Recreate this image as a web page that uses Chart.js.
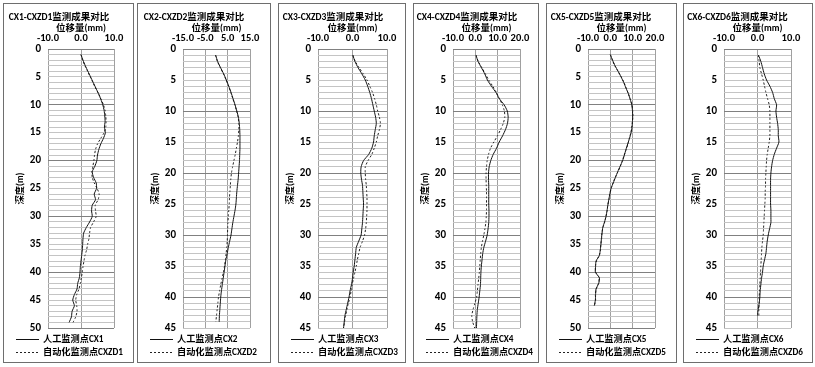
<!DOCTYPE html>
<html>
<head>
<meta charset="utf-8">
<script src="https://cdn.jsdelivr.net/npm/chart.js@4.4.1/dist/chart.umd.min.js"></script>
<style>
  body { margin: 0; background: #fff; width: 815px; height: 367px; position: relative; overflow: hidden; }
  .panel { position: absolute; top: 3px; height: 358px; border: 1px solid #6e6e6e; background: #fff; }
  .panel canvas { display: block; }
</style>
</head>
<body>
<script>
// depth (m) of each reading
const depths = [1, 2, 3, 4, 5, 6, 7, 8, 9, 10, 11, 12, 13, 14, 15, 16, 17, 18, 19, 20,
  21, 22, 23, 24, 25, 26, 27, 28, 29, 30, 31, 32, 33, 34, 35, 36, 37, 38, 39, 40,
  41, 42, 43, 44, 45, 46, 47, 48, 49];

// displacement (mm), manual inclinometer CXn and automatic CXZDn
const cx1 = [0.0, 0.6, 1.3, 2.1, 2.9, 3.7, 4.5, 5.3, 6.0, 6.6, 7.0, 7.2, 7.3, 7.1, 7.4, 6.8, 6.0, 5.4, 5.0, 4.8,
  4.2, 3.4, 3.8, 4.6, 4.7, 4.0, 4.4, 3.4, 3.2, 3.4, 2.6, 1.6, 0.8, 0.6, 0.5, 0.4, 0.2, 0.0, -0.2, -0.3,
  -0.5, -1.0, -1.2, -2.0, -2.5, -2.0, -2.7, -2.9, -3.6];
const cxzd1 = [0.0, 0.5, 1.2, 2.0, 2.8, 3.6, 4.4, 5.3, 6.1, 6.8, 7.3, 7.5, 7.6, 7.5, 7.0, 6.0, 5.0, 4.4, 4.1, 3.9,
  3.6, 3.3, 3.4, 4.0, 4.9, 5.5, 5.2, 4.3, 4.4, 4.6, 3.8, 2.9, 2.6, 2.4, 2.0, 1.7, 1.2, 0.9, 0.6, 0.4,
  0.1, -0.2, -0.6, -1.3, -1.6, -1.3, -1.2, -1.6, -2.4];

const cx2 = [-0.4, 0.5, 1.8, 3.2, 4.4, 5.5, 6.5, 7.4, 8.3, 9.1, 9.8, 10.2, 10.4, 10.5, 10.5, 10.5, 10.4, 10.3, 10.1, 9.9,
  9.7, 9.4, 9.1, 8.9, 8.7, 8.3, 7.8, 7.3, 6.9, 6.5, 5.9, 5.3, 4.8, 4.2, 3.8, 3.4, 3.0, 2.6, 2.2, 1.9,
  1.7, 1.5, 1.3, 1.2];
const cxzd2 = [-0.4, 0.4, 1.7, 3.1, 4.3, 5.4, 6.4, 7.3, 8.2, 9.0, 9.7, 10.0, 10.0, 9.8, 9.4, 8.9, 8.4, 7.8, 7.2, 6.7,
  6.4, 6.2, 6.0, 5.8, 5.7, 5.5, 5.3, 5.1, 5.0, 4.9, 4.8, 4.6, 4.3, 4.0, 3.6, 3.1, 2.5, 1.9, 1.4, 0.9,
  0.6, 0.3, 0.0, -0.3];

const cx3 = [0.1, 0.7, 1.6, 2.7, 3.7, 4.4, 5.0, 5.5, 5.9, 6.3, 6.7, 6.9, 6.6, 6.3, 6.1, 5.6, 4.7, 3.2, 2.5, 2.4,
  2.6, 2.9, 3.0, 3.1, 3.2, 3.1, 3.0, 2.9, 2.7, 2.5, 1.8, 1.1, 0.9, 0.7, 0.5, 0.2, 0.0, -0.3, -0.7, -1.0,
  -1.4, -1.8, -2.2, -2.4, -2.6];
const cxzd3 = [0.1, 0.8, 1.9, 3.1, 4.2, 5.0, 5.8, 6.4, 6.9, 7.3, 7.8, 8.1, 7.8, 7.3, 6.9, 6.3, 5.6, 4.5, 3.7, 3.7,
  3.8, 4.0, 4.1, 4.2, 4.2, 4.2, 4.1, 4.0, 3.8, 3.5, 2.9, 2.2, 1.8, 1.4, 1.1, 0.7, 0.3, -0.1, -0.4, -0.7,
  -1.2, -1.6, -2.0, -2.3, -2.6];

const cx4 = [0.3, 1.2, 2.7, 4.2, 5.4, 7.2, 9.2, 10.7, 12.9, 14.3, 14.7, 14.4, 13.5, 12.2, 10.7, 9.5, 8.0, 6.9, 6.2, 5.9,
  5.9, 6.0, 6.0, 6.0, 6.0, 6.1, 6.1, 6.0, 5.7, 5.3, 4.6, 3.8, 3.3, 3.0, 2.7, 2.5, 2.4, 2.3, 2.0, 1.7,
  1.3, 0.9, 0.7, 0.6, 0.5];
const cxzd4 = [0.3, 1.3, 2.9, 4.5, 6.0, 7.8, 9.4, 10.8, 12.1, 13.0, 13.2, 12.5, 11.3, 9.9, 8.3, 6.8, 5.9, 5.3, 5.0, 4.8,
  4.8, 4.9, 5.0, 5.0, 5.0, 5.0, 4.9, 4.7, 4.3, 3.8, 3.2, 2.7, 2.4, 2.2, 2.0, 1.8, 1.5, 1.2, 0.9, 0.6,
  -0.2, -1.0, -1.6, -1.2, -0.3];

const cx5 = [0.0, 1.0, 2.1, 3.5, 4.8, 6.0, 7.0, 8.1, 8.9, 9.6, 9.9, 10.0, 9.9, 9.7, 9.3, 8.6, 7.8, 7.0, 6.3, 5.5,
  4.4, 3.3, 2.3, 1.3, 0.3, -0.2, -0.7, -1.1, -1.5, -1.9, -2.6, -3.4, -3.7, -4.0, -4.2, -4.5, -4.9, -6.4, -6.6, -6.7,
  -4.9, -5.2, -6.4, -6.6, -6.7, -7.2];
const cxzd5 = [0.0, 0.9, 2.0, 3.4, 4.9, 6.1, 7.1, 8.0, 8.9, 9.7, 10.0, 10.1, 9.9, 9.6, 9.2, 8.5, 7.9, 7.1, 6.2, 5.4,
  4.5, 3.4, 2.2, 1.2, 0.4, -0.3, -0.6, -1.2, -1.4, -2.0, -2.5, -3.3, -3.8, -3.9, -4.3, -4.4, -5.0, -6.2, -6.7, -6.5,
  -5.0, -5.3, -6.3, -6.7, -6.6, -7.1];

const cx6 = [0.3, 1.0, 1.5, 2.0, 2.7, 3.7, 4.5, 5.0, 5.7, 5.5, 5.7, 6.0, 6.2, 6.2, 6.4, 5.7, 5.0, 4.5, 4.2, 4.0,
  3.9, 3.9, 3.9, 3.9, 3.9, 4.0, 4.0, 4.0, 3.6, 3.2, 2.9, 2.7, 2.5, 2.1, 1.7, 1.5, 1.2, 1.0, 0.8, 0.7,
  0.5, 0.2, 0.0];
const cxzd6 = [0.2, 0.5, 0.7, 1.2, 1.7, 2.1, 2.5, 3.0, 3.5, 3.7, 3.7, 3.7, 3.7, 3.7, 3.5, 3.2, 2.9, 2.7, 2.6, 2.5,
  2.4, 2.4, 2.3, 2.3, 2.2, 2.1, 2.0, 1.9, 1.8, 1.7, 1.5, 1.3, 1.2, 1.1, 1.0, 0.9, 0.8, 0.7, 0.6, 0.5,
  0.5, 0.4, 0.4];

// x axis tick values per panel, y axis bottom per panel
const xTicks1 = [-10, 0, 10];
const xTicks2 = [-15, -5, 5, 15];
const xTicks3 = [-10, 0, 10];
const xTicks4 = [-10, 0, 10, 20];
const xTicks5 = [-10, 0, 10, 20];
const xTicks6 = [-10, 0, 10];
const depthMax = [50, 45, 45, 45, 50, 45];

const titles = ['CX1-CXZD1监测成果对比', 'CX2-CXZD2监测成果对比', 'CX3-CXZD3监测成果对比',
  'CX4-CXZD4监测成果对比', 'CX5-CXZD5监测成果对比', 'CX6-CXZD6监测成果对比'];
const manualNames = ['人工监测点CX1', '人工监测点CX2', '人工监测点CX3', '人工监测点CX4', '人工监测点CX5', '人工监测点CX6'];
const autoNames = ['自动化监测点CXZD1', '自动化监测点CXZD2', '自动化监测点CXZD3', '自动化监测点CXZD4', '自动化监测点CXZD5', '自动化监测点CXZD6'];
const xTitle = '位移量(mm)';
const yTitle = '深度(m)';

const manual = [cx1, cx2, cx3, cx4, cx5, cx6];
const auto = [cxzd1, cxzd2, cxzd3, cxzd4, cxzd5, cxzd6];
const xTicks = [xTicks1, xTicks2, xTicks3, xTicks4, xTicks5, xTicks6];

// panel frames on the page (outer left, outer width, plot left / right inside canvas)
const frames = [
  {left: 3,   width: 131, plotLeft: 44, plotRight: 110},
  {left: 137, width: 134, plotLeft: 45, plotRight: 112},
  {left: 278, width: 128, plotLeft: 39, plotRight: 108},
  {left: 413, width: 126, plotLeft: 39, plotRight: 106},
  {left: 546, width: 131, plotLeft: 41, plotRight: 108},
  {left: 683, width: 130, plotLeft: 40, plotRight: 107}
];

const FONT = "Carlito, 'Noto Sans CJK SC', sans-serif";
Chart.defaults.font.family = FONT;
Chart.defaults.color = '#000';

// pick a font size so that a text string gets the width it has in the picture
const meas = document.createElement('canvas').getContext('2d');
function fitSize(text, width) {
  meas.font = 'bold 20px ' + FONT;
  return Math.round(200 * width / meas.measureText(text).width) / 10;
}
const titleSize = fitSize(titles[0], 101);
const xTitleSize = fitSize(xTitle, 50);
const yTitleSize = fitSize(yTitle, 32);
const legendSize = fitSize(autoNames[0], 80);

const titlePad = 8;
const titleH = titlePad + 1.2 * titleSize;

// two-row legend under the plot: line sample + name
const lineLegend = {
  id: 'lineLegend',
  afterDraw(chart, args, opts) {
    const ctx = chart.ctx;
    ctx.save();
    ctx.font = 'bold ' + legendSize + 'px ' + FONT;
    ctx.textBaseline = 'middle';
    ctx.fillStyle = '#000';
    chart.data.datasets.forEach((ds, i) => {
      const y = Math.round(opts.top + i * opts.rowHeight) + 0.5;
      ctx.strokeStyle = ds.borderColor;
      ctx.lineWidth = ds.borderWidth;
      ctx.setLineDash(ds.borderDash || []);
      ctx.beginPath();
      ctx.moveTo(opts.left, y);
      ctx.lineTo(opts.left + opts.lineLength, y);
      ctx.stroke();
      ctx.setLineDash([]);
      ctx.fillText(ds.label, opts.left + opts.lineLength + 4, y);
    });
    ctx.restore();
  }
};

frames.forEach((f, i) => {
  const div = document.createElement('div');
  div.className = 'panel';
  div.style.left = f.left + 'px';
  div.style.width = (f.width - 2) + 'px';
  const canvas = document.createElement('canvas');
  canvas.width = f.width - 2;
  canvas.height = 358;
  div.appendChild(canvas);
  document.body.appendChild(div);

  const ticks = xTicks[i];
  const toPoints = arr => arr.map((v, k) => ({x: v, y: depths[k]}));

  new Chart(canvas, {
    type: 'scatter',
    data: {
      datasets: [
        {label: manualNames[i], data: toPoints(manual[i]), showLine: true, borderColor: '#111',
         borderWidth: 1, pointRadius: 0, tension: 0.2},
        {label: autoNames[i], data: toPoints(auto[i]), showLine: true, borderColor: '#222',
         borderWidth: 1, borderDash: [2, 2], pointRadius: 0, tension: 0.2}
      ]
    },
    plugins: [lineLegend],
    options: {
      responsive: false,
      animation: false,
      layout: {padding: {left: 0, right: canvas.width - f.plotRight, top: 0, bottom: 34}},
      plugins: {
        legend: {display: false},
        tooltip: {enabled: false},
        title: {display: true, text: titles[i], font: {size: titleSize, weight: 'bold'},
                padding: {top: titlePad, bottom: 0}, color: '#000'},
        lineLegend: {left: 12, top: 335, rowHeight: 13, lineLength: 23}
      },
      scales: {
        x: {
          type: 'linear',
          position: 'top',
          min: ticks[0],
          max: ticks[ticks.length - 1],
          afterFit: s => { s.height = 45 - titleH; },
          ticks: {stepSize: ticks[1] - ticks[0], autoSkip: false, maxRotation: 0, padding: 4,
                  font: {size: 10.5, weight: 'bold'}, callback: v => v.toFixed(1)},
          grid: {color: '#a0a0a0', drawTicks: false},
          border: {display: false},
          title: {display: true, text: xTitle, font: {size: xTitleSize, weight: 'bold'},
                  padding: {top: Math.max(0, 24 - titleH - 0.6 * xTitleSize), bottom: 0}}
        },
        y: {
          type: 'linear',
          reverse: true,
          min: 0,
          max: depthMax[i],
          afterFit: s => { s.width = f.plotLeft; },
          ticks: {stepSize: 1, autoSkip: false, padding: 7, font: {size: 11, weight: 'bold'},
                  callback: v => (v % 5 === 0 ? v : '')},
          grid: {drawTicks: false, color: c => (c.tick && c.tick.value % 10 === 0 ? '#808080' : '#c4c4c4')},
          border: {display: false},
          title: {display: true, text: yTitle, font: {size: yTitleSize, weight: 'bold'},
                  padding: {top: f.plotLeft - 27 - 0.6 * yTitleSize, bottom: 0}}
        }
      }
    }
  });
});
</script>
</body>
</html>
